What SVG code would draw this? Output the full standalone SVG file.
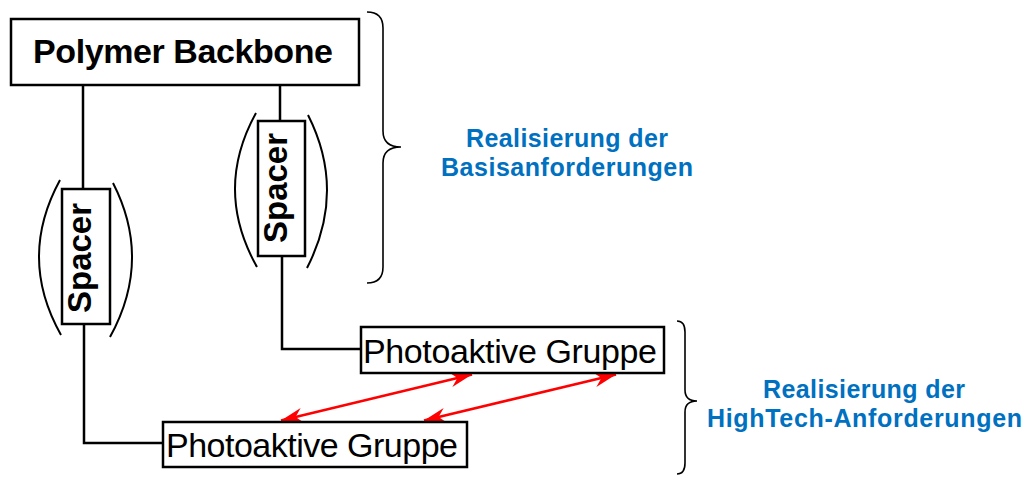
<svg xmlns="http://www.w3.org/2000/svg" width="1026" height="477" viewBox="0 0 1026 477">
  <style>
    .box { fill: #fff; stroke: #000; stroke-width: 2.5; }
    .wire { fill: none; stroke: #000; stroke-width: 2.5; }
    .paren { fill: none; stroke: #000; stroke-width: 2; }
    .brace { fill: none; stroke: #000; stroke-width: 1.6; }
    .link { fill: none; stroke: #ff0000; stroke-width: 2.5; marker-start: url(#stealth); marker-end: url(#stealth); }
    .title { font-family: "Liberation Sans", Arial, sans-serif; font-weight: bold; font-size: 34px; fill: #000; }
    .spacer { font-family: "Liberation Sans", Arial, sans-serif; font-weight: bold; font-size: 33px; fill: #000; }
    .group { font-family: "Liberation Sans", Arial, sans-serif; font-size: 34px; fill: #000; }
    .note { font-family: "Liberation Sans", Arial, sans-serif; font-weight: bold; font-size: 25px; fill: #0070c0; text-anchor: middle; }
  </style>
  <defs>
    <marker id="stealth" viewBox="-24 -10 26 20" refX="0" refY="0" markerWidth="26" markerHeight="20" markerUnits="userSpaceOnUse" orient="auto-start-reverse">
      <path d="M0,0 L-22,-7.5 L-15,0 L-22,7.5 Z" fill="#ff0000"/>
    </marker>
  </defs>

  <!-- connectors -->
  <g id="connectors">
    <path class="wire" d="M83,85 V189"/>
    <path class="wire" d="M84,324 V443 H163"/>
    <path class="wire" d="M280,85 V121"/>
    <path class="wire" d="M282,256 V349 H361"/>
    <path class="link" d="M281,420.5 L472,374.5"/>
    <path class="link" d="M424,420.5 L616,374.5"/>
  </g>

  <!-- backbone -->
  <g id="backbone">
    <rect class="box" x="11" y="19" width="348" height="66"/>
    <text class="title" x="183" y="63" text-anchor="middle" textLength="300">Polymer Backbone</text>
  </g>

  <!-- left spacer with its brackets -->
  <g id="spacer-left">
    <path class="paren" d="M60,180 Q17.5,258 61,335"/>
    <path class="paren" d="M113,183 Q152.5,260 110,337"/>
    <rect class="box" x="62" y="189" width="48" height="135"/>
    <text class="spacer" transform="translate(91,258) rotate(-90)" text-anchor="middle">Spacer</text>
  </g>

  <!-- right spacer with its brackets -->
  <g id="spacer-right">
    <path class="paren" d="M256,113 Q213.5,190 257,267"/>
    <path class="paren" d="M308,115 Q346.5,191 307,268"/>
    <rect class="box" x="258" y="121" width="47" height="135"/>
    <text class="spacer" transform="translate(287,188) rotate(-90)" text-anchor="middle">Spacer</text>
  </g>

  <!-- photoactive groups -->
  <g id="photo-upper">
    <rect class="box" x="361" y="327" width="303" height="46"/>
    <text class="group" x="363" y="363" textLength="294">Photoaktive Gruppe</text>
  </g>
  <g id="photo-lower">
    <rect class="box" x="163" y="422" width="304" height="45"/>
    <text class="group" x="166" y="457" textLength="292">Photoaktive Gruppe</text>
  </g>

  <!-- annotation: basic requirements -->
  <g id="note-basis">
    <path class="brace" d="M367,12 C377,12 383,16 383,28 L383,131 C383,142 390,147 401,147 C390,147 383,152 383,163 L383,267 C383,279 377,283 367,283"/>
    <text class="note" x="567" y="147" textLength="202">Realisierung der</text>
    <text class="note" x="567" y="176" textLength="252">Basisanforderungen</text>
  </g>

  <!-- annotation: high-tech requirements -->
  <g id="note-hightech">
    <path class="brace" d="M677,321 C682,321 685,325 685,332 L685,390 C685,397 689,401 697,401 C689,401 685,405 685,412 L685,463 C685,470 682,474 677,474"/>
    <text class="note" x="864" y="398" textLength="202">Realisierung der</text>
    <text class="note" x="864.5" y="427" textLength="315">HighTech-Anforderungen</text>
  </g>
</svg>
